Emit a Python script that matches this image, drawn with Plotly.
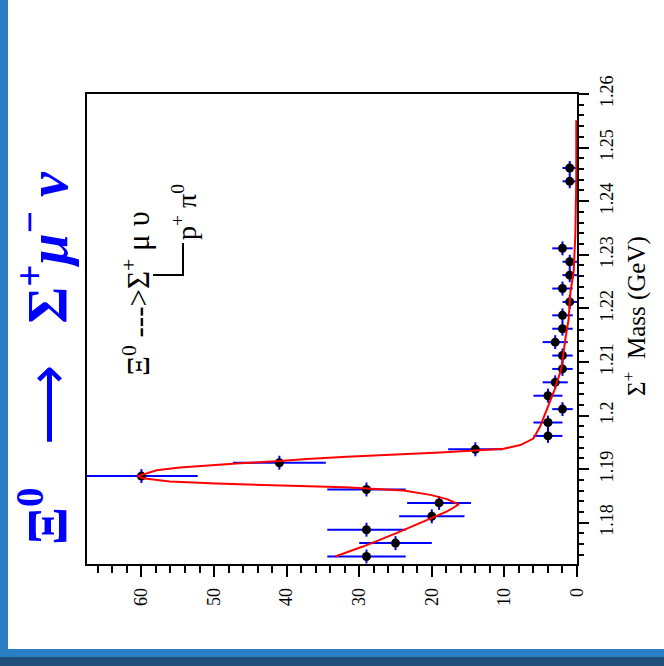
import plotly.graph_objects as go

# ---------------- data ----------------
mass = [1.1737, 1.1762, 1.1787, 1.1812, 1.1837, 1.1862, 1.1887, 1.1912, 1.1937,
        1.1962, 1.1987, 1.2012, 1.2037, 1.2062, 1.2087, 1.2112, 1.2137, 1.2162,
        1.2187, 1.2212, 1.2237, 1.2262, 1.2287, 1.2312, 1.2437, 1.2462]
counts = [29, 25, 29, 20, 19, 29, 60, 41, 14,
          4, 4, 2, 4, 3, 2, 2, 3, 2,
          2, 1, 2, 1, 1, 2, 1, 1]
count_err = [5.4, 5.0, 5.4, 4.5, 4.4, 5.4, 7.75, 6.4, 3.75,
             2.0, 2.0, 1.41, 2.0, 1.73, 1.41, 1.41, 1.73, 1.41,
             1.41, 1.0, 1.41, 1.0, 1.0, 1.41, 1.0, 1.0]
mass_halfbin = 0.0013

fit_mass = [1.1737, 1.1756, 1.1781, 1.1807, 1.1821, 1.1834, 1.1844, 1.1852, 1.1860,
            1.1866, 1.1869, 1.1873, 1.1877, 1.1883, 1.1887, 1.1898, 1.1903, 1.1907,
            1.1911, 1.1915, 1.1919, 1.1923, 1.1927, 1.1931, 1.1935, 1.1938, 1.1945,
            1.1957, 1.1979, 1.2013, 1.2044, 1.2081, 1.2093, 1.2143, 1.2180, 1.2231,
            1.2268, 1.2337, 1.2440, 1.2551]
fit_counts = [33.3, 29.4, 24.8, 20.2, 17.9, 16.3, 17.9, 20.2, 23.9,
              32.0, 41.4, 49.7, 56.1, 59.8, 60.5, 57.9, 54.7, 50.6,
              46.4, 40.9, 37.2, 31.7, 24.8, 18.9, 14.0, 10.1, 7.8,
              6.0, 5.1, 4.1, 3.2, 2.3, 2.1, 1.6, 1.15, 0.9,
              0.46, 0.23, 0.1, 0.1]

count_ticks = [0, 10, 20, 30, 40, 50, 60]
mass_ticks = [1.18, 1.19, 1.20, 1.21, 1.22, 1.23, 1.24, 1.25, 1.26]
mass_ticktext = ["1.18", "1.19", "1.2", "1.21", "1.22", "1.23", "1.24", "1.25", "1.26"]

# ---------------- layout geometry ----------------
W, H = 664, 666
PL, PR, PT, PB = 87, 577, 94, 564   # plot area in pixels


def px(x):
    return (x - PL) / (PR - PL)


def py(y):
    return (PB - y) / (PB - PT)


SERIF = "Liberation Serif, Times New Roman, serif"
NB = "\u00a0"

fig = go.Figure()

fig.add_trace(go.Scatter(
    x=counts, y=mass, mode="markers",
    marker=dict(color="black", size=9, symbol="circle"),
    error_x=dict(type="data", array=count_err, color="#0000ff", thickness=2, width=0),
    error_y=dict(type="constant", value=mass_halfbin, color="#0000ff", thickness=2, width=0),
    showlegend=False, cliponaxis=True,
))

fig.add_trace(go.Scatter(
    x=fit_counts, y=fit_mass, mode="lines",
    line=dict(color="#ff0000", width=2),
    showlegend=False,
))

fig.update_xaxes(
    range=[67.5, 0], tickvals=count_ticks, tickangle=-90,
    ticks="outside", ticklen=11, tickwidth=1.5, tickcolor="black",
    minor=dict(dtick=2, tick0=0, ticks="outside", ticklen=7, tickwidth=1.5, tickcolor="black"),
    showline=True, linecolor="black", linewidth=1.5, mirror=True,
    showgrid=False, zeroline=False,
    tickfont=dict(family=SERIF, size=18, color="black"),
    ticklabelstandoff=4,
)
fig.update_yaxes(
    range=[1.1723, 1.26], side="right", tickvals=mass_ticks, ticktext=mass_ticktext,
    tickangle=-90,
    ticks="outside", ticklen=10, tickwidth=1.5, tickcolor="black",
    minor=dict(dtick=0.002, tick0=1.18, ticks="outside", ticklen=5, tickwidth=1.5, tickcolor="black"),
    showline=True, linecolor="black", linewidth=1.5, mirror=True,
    showgrid=False, zeroline=False,
    tickfont=dict(family=SERIF, size=18, color="black"),
    ticklabelstandoff=3,
)

shapes = [
    # left blue stripe
    dict(type="rect", xref="paper", yref="paper", x0=px(0), x1=px(8), y0=py(657), y1=py(0),
         fillcolor="#2a7fc4", line=dict(width=0), layer="below"),
    # bottom light blue bar
    dict(type="rect", xref="paper", yref="paper", x0=px(0), x1=px(664), y0=py(657), y1=py(649),
         fillcolor="#2a7fc4", line=dict(width=0), layer="below"),
    # bottom dark blue bar
    dict(type="rect", xref="paper", yref="paper", x0=px(0), x1=px(664), y0=py(666), y1=py(657),
         fillcolor="#1e4e7a", line=dict(width=0), layer="below"),
    # decay chain connector
    dict(type="path", xref="paper", yref="paper",
         path=f"M {px(153)} {py(275)} L {px(183)} {py(275)} L {px(183)} {py(243)}",
         line=dict(color="black", width=2)),
]

title_text = ("<b>Ξ<sup>0</sup></b>" + NB * 3 + "⟶" + NB * 3
              + "<b>Σ<sup>+</sup><i>μ</i><sup>−</sup>" + NB + "<i>ν</i></b>")

annotations = [
    dict(text=title_text,
         x=px(44), y=py(358), xref="paper", yref="paper", showarrow=False,
         textangle=-90, xanchor="center", yanchor="middle",
         font=dict(family=SERIF, size=56, color="#0000ff")),
    dict(text="Ξ<sup>0</sup> --->Σ<sup>+</sup> μ υ",
         x=px(136), y=py(294), xref="paper", yref="paper", showarrow=False,
         textangle=-90, xanchor="center", yanchor="middle",
         font=dict(family=SERIF, size=31, color="black")),
    dict(text="p<sup>+</sup> π<sup>0</sup>",
         x=px(184), y=py(212), xref="paper", yref="paper", showarrow=False,
         textangle=-90, xanchor="center", yanchor="middle",
         font=dict(family=SERIF, size=28, color="black")),
    dict(text="Σ<sup>+</sup>" + NB + NB + "Mass (GeV)",
         x=px(634), y=py(316), xref="paper", yref="paper", showarrow=False,
         textangle=-90, xanchor="center", yanchor="middle",
         font=dict(family=SERIF, size=25, color="black")),
]

fig.update_layout(
    width=W, height=H, autosize=False,
    margin=dict(l=PL, r=W - PR, t=PT, b=H - PB),
    paper_bgcolor="white", plot_bgcolor="white",
    shapes=shapes, annotations=annotations,
    showlegend=False,
)

fig.write_html("out.html", config={"displayModeBar": False},
               post_script="document.body.style.margin='0';")
